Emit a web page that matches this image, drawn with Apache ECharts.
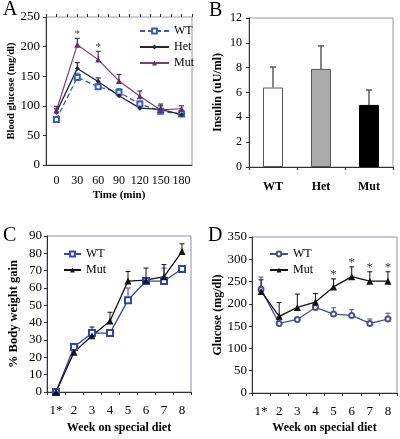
<!DOCTYPE html>
<html><head><meta charset="utf-8">
<script src="https://cdn.jsdelivr.net/npm/echarts@6/dist/echarts.min.js"></script>
<style>html,body{margin:0;padding:0;background:#fff}#c{width:400px;height:439px}</style>
</head><body><div id="c"></div>
<script>
// Panel A: glucose tolerance
const timeCats = ['0','30','60','90','120','150','180'];
const aWT  = [77, 148, 132, 123, 103, 91, 86];
const aHet = [89, 163, 141, 117, 96, 94, 85];
const aMut = [92, 203, 178, 142, 116, 93, 95];
const aWTerr  = [4, 7, 5, 6, 5, 4, 3];
const aHetErr = [6, 10, 6, 4, 4, 6, 4];
const aMutErr = [7, 11, 14, 11, 9, 10, 5];
const aStars = [null, '*', '*', null, null, null, null];
// Panel B: insulin
const bCats = ['WT','Het','Mut'];
const bVals = [6.4, 7.9, 5.0];
const bErr  = [1.65, 1.85, 1.2];
// Panel C: body weight gain
const weekCats = ['1*','2','3','4','5','6','7','8'];
const cWT  = [0, 26, 34, 34, 53, 64, 64, 71];
const cMut = [0, 23, 32.5, 41, 64, 64.5, 66.5, 81];
const cWTerr  = [0, 1.5, 1.5, 0, 7, 0, 7.5, 0];
const cMutErr = [0, 1, 5, 5, 5.5, 7, 7, 4.5];
// Panel D: glucose on diet
const dWT  = [233, 156, 165, 192, 177, 174, 156, 166];
const dMut = [228, 172, 192, 204, 238, 261, 251, 251];
const dWTerr  = [27, 8, 0, 0, 14, 13, 10, 13];
const dMutErr = [26, 31, 30, 19, 18, 22, 21, 21];
const dStars = [null, null, null, null, '*', '*', '*', '*'];

const FF = 'Liberation Serif';
const chart = echarts.init(document.getElementById('c'), null, {renderer:'canvas'});

function errSeries(name, xi, yi, vals, errs, color, capW, lw) {
  return {
    type: 'custom', name: name, xAxisIndex: xi, yAxisIndex: yi, z: 1,
    data: vals.map((v, i) => [i, v, errs[i]]),
    encode: {x: 0, y: 1},
    renderItem: function (params, api) {
      const e = api.value(2);
      if (!e) return null;
      const x = api.value(0), y = api.value(1);
      const p0 = api.coord([x, y]);
      const p1 = api.coord([x, y + e]);
      const st = {stroke: color, lineWidth: lw || 1.2};
      return {type: 'group', children: [
        {type: 'line', shape: {x1: p0[0], y1: p0[1], x2: p1[0], y2: p1[1]}, style: st},
        {type: 'line', shape: {x1: p1[0] - capW, y1: p1[1], x2: p1[0] + capW, y2: p1[1]}, style: st}
      ]};
    }
  };
}
function starSeries(xi, yi, vals, errs, stars, size, dist) {
  return {
    type: 'scatter', xAxisIndex: xi, yAxisIndex: yi, symbolSize: 1,
    itemStyle: {color: 'rgba(0,0,0,0)'}, silent: true, z: 5,
    data: stars.map((s, i) => s ? {value: [i, vals[i] + errs[i]], label: {show: true, formatter: s}} : null).filter(d => d),
    label: {show: true, position: 'top', distance: dist, color: '#000', fontFamily: FF, fontSize: size}
  };
}
const axisLineDark = {show: true, lineStyle: {color: '#333', width: 1}};
function yAx(grid, min, max, interval, name, nameGap, nameSize, margin, labelSize) {
  return {
    type: 'value', gridIndex: grid, min: min, max: max, interval: interval,
    axisLine: axisLineDark, splitLine: {show: false},
    axisTick: {show: true, length: 3, lineStyle: {color: '#333'}},
    axisLabel: {fontFamily: FF, fontSize: labelSize, color: '#000', margin: margin},
    name: name, nameLocation: 'middle', nameGap: nameGap,
    nameTextStyle: {fontFamily: FF, fontSize: nameSize, fontWeight: 'bold', color: '#000'}
  };
}
function xCat(grid, data, name, nameGap, labelMargin, bold, showTick, labelSize, nameSize) {
  return {
    type: 'category', gridIndex: grid, data: data, boundaryGap: true,
    axisLine: axisLineDark, splitLine: {show: false},
    axisTick: {show: showTick, length: 3, alignWithLabel: false, lineStyle: {color: '#333'}},
    axisLabel: {fontFamily: FF, fontSize: labelSize, color: '#000', margin: labelMargin, fontWeight: bold ? 'bold' : 'normal', interval: 0},
    name: name, nameLocation: 'middle', nameGap: nameGap,
    nameTextStyle: {fontFamily: FF, fontSize: nameSize, fontWeight: 'bold', color: '#000'}
  };
}

const option = {
  animation: false,
  backgroundColor: '#fff',
  grid: [
    {left: 46, top: 17, width: 146, height: 148, show: true, borderColor: '#999', borderWidth: 1, backgroundColor: 'transparent'},
    {left: 249, top: 18, width: 144, height: 149, show: true, borderColor: '#999', borderWidth: 1, backgroundColor: 'transparent'},
    {left: 47, top: 236, width: 144, height: 156, show: true, borderColor: '#8a90aa', borderWidth: 1, backgroundColor: 'transparent'},
    {left: 252, top: 237, width: 145, height: 156, show: true, borderColor: '#8a90aa', borderWidth: 1, backgroundColor: 'transparent'}
  ],
  xAxis: [
    xCat(0, timeCats, 'Time (min)', 25, 10, false, false, 12, 11),
    {type: 'category', gridIndex: 0, data: timeCats.concat(timeCats).map(() => ''), boundaryGap: true,
     axisLine: {show: false}, axisLabel: {show: false}, splitLine: {show: false},
     axisTick: {show: true, length: 3, lineStyle: {color: '#333'}}},
    xCat(1, bCats, '', 20, 14, true, true, 12, 12),
    xCat(2, weekCats, 'Week on special diet', 30, 12, false, true, 13, 12),
    xCat(3, weekCats, 'Week on special diet', 29, 12, false, true, 13, 12)
  ],
  yAxis: [
    yAx(0, 0, 250, 50, 'Blood glucose (mg/dl)', 28, 10.5, 6, 13),
    yAx(1, 0, 12, 2, 'Insulin (uU/ml)', 25, 12, 7, 12),
    yAx(2, 0, 90, 10, '% Body weight gain', 27, 12.5, 5, 13),
    yAx(3, 0, 350, 50, 'Glucose (mg/dl)', 28, 12, 5, 13)
  ],
  legend: [
    {left: 134, top: 20, orient: 'vertical', itemGap: 4, itemWidth: 29, itemHeight: 6,
     data: ['A|WT', 'A|Het', 'A|Mut'], formatter: n => n.split('|')[1],
     textStyle: {fontFamily: FF, fontSize: 12, color: '#000'}},
    {left: 58, top: 243, orient: 'vertical', itemGap: 4, itemWidth: 17, itemHeight: 6,
     data: ['C|WT', 'C|Mut'], formatter: n => n.split('|')[1],
     textStyle: {fontFamily: FF, fontSize: 12, color: '#000'}},
    {left: 264, top: 243, orient: 'vertical', itemGap: 4, itemWidth: 18, itemHeight: 6,
     data: ['D|WT', 'D|Mut'], formatter: n => n.split('|')[1],
     textStyle: {fontFamily: FF, fontSize: 12, color: '#000'}}
  ],
  graphic: [
    {type: 'text', left: 3, top: 0, style: {text: 'A', fontFamily: FF, fontSize: 20, fill: '#000'}},
    {type: 'text', left: 209, top: 1, style: {text: 'B', fontFamily: FF, fontSize: 20, fill: '#000'}},
    {type: 'text', left: 3, top: 226, style: {text: 'C', fontFamily: FF, fontSize: 20, fill: '#000'}},
    {type: 'text', left: 208, top: 226, style: {text: 'D', fontFamily: FF, fontSize: 20, fill: '#000'}}
  ],
  series: [
    // Panel A
    errSeries('eA1', 0, 0, aWT, aWTerr, '#3a5fb0', 2.5, 1),
    errSeries('eA2', 0, 0, aHet, aHetErr, '#2a2a3a', 2.5, 1.2),
    errSeries('eA3', 0, 0, aMut, aMutErr, '#5a2a5a', 2.5, 1.2),
    {type: 'line', name: 'A|WT', xAxisIndex: 0, yAxisIndex: 0, data: aWT, z: 3,
     lineStyle: {color: '#3a5fb0', width: 1.3, type: [5, 3]}, itemStyle: {color: '#3a5fb0', borderWidth: 1},
     symbol: 'emptyRect', symbolSize: 5},
    {type: 'line', name: 'A|Het', xAxisIndex: 0, yAxisIndex: 0, data: aHet, z: 3,
     lineStyle: {color: '#26263a', width: 1.4}, itemStyle: {color: '#26263a'},
     symbol: 'diamond', symbolSize: 5},
    {type: 'line', name: 'A|Mut', xAxisIndex: 0, yAxisIndex: 0, data: aMut, z: 3,
     lineStyle: {color: '#7a3a7e', width: 1.2}, itemStyle: {color: '#6a2a6e'},
     symbol: 'triangle', symbolSize: 6},
    starSeries(0, 0, aMut, aMutErr, aStars, 11, -2),
    // Panel B
    errSeries('eB', 2, 1, bVals, bErr, '#444', 3, 1.3),
    {type: 'bar', name: 'B', xAxisIndex: 2, yAxisIndex: 1, barWidth: 20, z: 2,
     data: bVals.map((v, i) => ({value: v, itemStyle: [
       {color: '#fff', borderColor: '#555', borderWidth: 1},
       {color: '#aaaaaa', borderColor: '#555', borderWidth: 1},
       {color: '#000', borderColor: '#000', borderWidth: 1}][i]}))},
    // Panel C
    errSeries('eC1', 3, 2, cWT, cWTerr, '#3344aa', 2.5, 1),
    errSeries('eC2', 3, 2, cMut, cMutErr, '#111', 2.5, 1),
    {type: 'line', name: 'C|WT', xAxisIndex: 3, yAxisIndex: 2, data: cWT, z: 3,
     lineStyle: {color: '#3344aa', width: 1.3}, itemStyle: {color: '#3344aa', borderWidth: 1},
     symbol: 'emptyRect', symbolSize: 6},
    {type: 'line', name: 'C|Mut', xAxisIndex: 3, yAxisIndex: 2, data: cMut, z: 3,
     lineStyle: {color: '#111', width: 1.3}, itemStyle: {color: '#111'},
     symbol: 'triangle', symbolSize: 7},
    // Panel D
    errSeries('eD1', 4, 3, dWT, dWTerr, '#4a5280', 2.5, 1),
    errSeries('eD2', 4, 3, dMut, dMutErr, '#111', 2.5, 1),
    {type: 'line', name: 'D|WT', xAxisIndex: 4, yAxisIndex: 3, data: dWT, z: 3,
     lineStyle: {color: '#4a5280', width: 1.3}, itemStyle: {color: '#4a5280', borderWidth: 1},
     symbol: 'emptyCircle', symbolSize: 5},
    {type: 'line', name: 'D|Mut', xAxisIndex: 4, yAxisIndex: 3, data: dMut, z: 3,
     lineStyle: {color: '#111', width: 1.3}, itemStyle: {color: '#111'},
     symbol: 'triangle', symbolSize: 7},
    starSeries(4, 3, dMut, dMutErr, dStars, 13, -3)
  ]
};
chart.setOption(option);
</script></body></html>
